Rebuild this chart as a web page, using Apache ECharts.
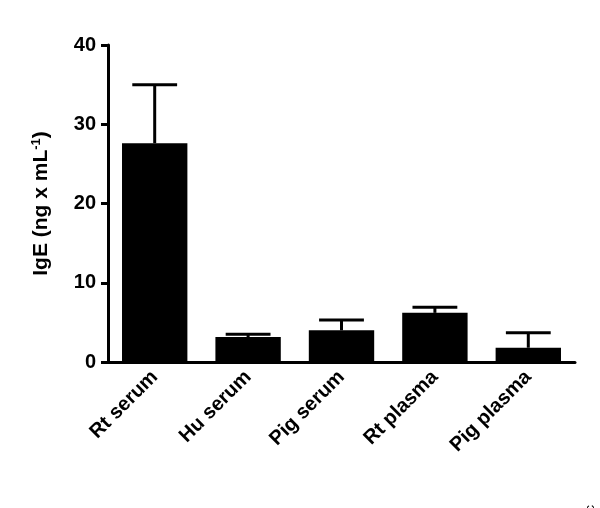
<!DOCTYPE html>
<html><head><meta charset="utf-8">
<script src="https://cdn.jsdelivr.net/npm/echarts@6/dist/echarts.min.js"></script>
<style>html,body{margin:0;background:#fff}#c{width:600px;height:508px}</style>
</head><body><div id="c"></div>
<script>
var categories = ['Rt serum', 'Hu serum', 'Pig serum', 'Rt plasma', 'Pig plasma'];
var means = [27.6, 3.15, 4.0, 6.2, 1.8];
var upper = [35.0, 3.5, 5.3, 6.9, 3.7];
var yTicks = [0, 10, 20, 30, 40];

var chart = echarts.init(document.getElementById('c'));
var errData = categories.map(function (c, i) { return [i, means[i], upper[i]]; });
chart.setOption({
    animation: false,
    grid: { left: 108, right: 25, top: 45, bottom: 146 },
    graphic: [{
        type: 'text', left: 584, top: 505, rotation: Math.PI / 2,
        style: { text: 'Copyright (c) 2014 Abcam plc', fill: '#000', font: '13px Arial, Liberation Sans, sans-serif' }
    }],
    xAxis: {
        type: 'category', data: categories,
        axisLine: { lineStyle: { color: '#000', width: 3 } },
        axisTick: { alignWithLabel: true, length: 7, lineStyle: { width: 3, color: '#000' } },
        axisLabel: { rotate: 45, color: '#000', fontWeight: 'bold', fontSize: 20, fontFamily: 'Arial, Liberation Sans, sans-serif', margin: 12 }
    },
    yAxis: {
        type: 'value', min: 0, max: 40, interval: 10,
        name: '{n|IgE (ng x mL}{s|-1}{n|)}', nameLocation: 'middle', nameGap: 55, nameRotate: 90,
        nameTextStyle: { rich: {
            n: { fontSize: 21, fontWeight: 'bold', color: '#000', fontFamily: 'Arial, Liberation Sans, sans-serif' },
            s: { fontSize: 13, fontWeight: 'bold', color: '#000', verticalAlign: 'top', padding: [0, 0, 10, 0], fontFamily: 'Arial, Liberation Sans, sans-serif' }
        } },
        splitLine: { show: false },
        axisLine: { show: true, lineStyle: { color: '#000', width: 3 } },
        axisTick: { show: true, length: 7, lineStyle: { width: 3, color: '#000' } },
        axisLabel: { color: '#000', fontWeight: 'bold', fontSize: 20, fontFamily: 'Arial, Liberation Sans, sans-serif', margin: 12,
            formatter: function (v) { return yTicks.indexOf(v) >= 0 ? v : ''; } }
    },
    series: [{
        type: 'bar', data: means, barWidth: '70%', itemStyle: { color: '#000' }
    }, {
        type: 'custom', data: errData, z: 1,
        renderItem: function (params, api) {
            var base = api.coord([api.value(0), api.value(1)]);
            var top = api.coord([api.value(0), api.value(2)]);
            var hw = api.size([1, 0])[0] * 0.24;
            return { type: 'group', children: [
                { type: 'line', shape: { x1: base[0], y1: base[1], x2: top[0], y2: top[1] }, style: { stroke: '#000', lineWidth: 3 } },
                { type: 'line', shape: { x1: top[0] - hw, y1: top[1], x2: top[0] + hw, y2: top[1] }, style: { stroke: '#000', lineWidth: 3 } }
            ] };
        }
    }]
});
</script></body></html>
